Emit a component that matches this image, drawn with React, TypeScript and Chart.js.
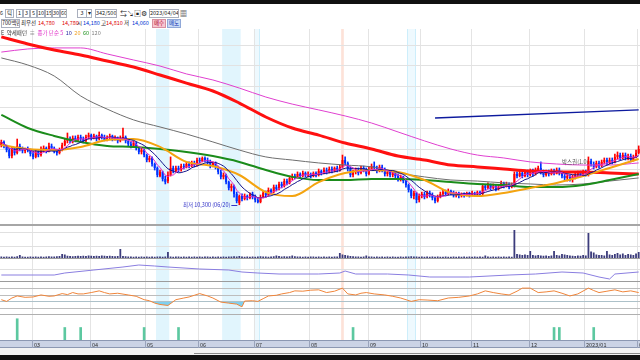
import React, { useEffect, useRef } from "react";
import { Chart, registerables } from "chart.js";
Chart.register(...registerables);

// ---------- data ----------
const monthStarts = [12, 34, 55, 75, 96, 117, 139, 159, 178, 200, 221, 241];
const monthLabels = ["03", "04", "05", "06", "07", "08", "09", "10", "11", "12", "2023/01", "02"];

const opens = [
  13170,13320,13130,12930,12640,12980,12790,13130,13030,12890,
  12980,12930,12740,12600,12840,12690,12930,13030,12890,13130,
  13030,12890,12790,12930,13170,13370,13460,13370,13510,13410,
  13560,13460,13370,13560,13650,13510,13610,13460,13650,13560,
  13410,13510,13610,13460,13510,13370,13460,13560,13370,13220,
  13130,13270,13030,12840,12930,12690,12450,12550,12260,12070,
  11680,11880,11540,11440,11730,12070,11920,12070,11970,12160,
  12120,12260,12160,12310,12210,12450,12400,12550,12450,12360,
  12160,12310,12120,11880,11640,11730,11390,11110,11200,10820,
  10390,10720,10580,10720,10630,10820,10670,10530,10430,10670,
  10870,10770,11010,10910,11150,11060,11300,11200,11440,11350,
  11590,11680,11640,11780,11680,11830,11730,11780,11680,11830,
  11730,11920,11830,11970,11880,12020,11920,12070,11970,12120,
  12450,12310,12020,11730,11880,11970,11830,12070,11970,11780,
  12020,12160,12070,11920,12120,11970,11780,11880,11730,11830,
  11680,11540,11640,11440,11250,11010,10720,10870,10530,10720,
  10820,10670,10870,10770,10630,10480,10670,10820,10910,10820,
  10960,10870,10770,10870,10720,10820,10770,10870,10770,10870,
  10820,10910,10820,11200,11110,11250,11110,11200,11060,11150,
  11350,11200,11300,11150,11200,11780,11680,11830,11680,11880,
  11730,11920,11780,11970,12070,11880,11730,11880,11780,11920,
  11830,11970,11830,11680,11590,11680,11540,11640,11730,11830,
  11730,11880,11730,12400,12260,12120,12310,12160,12360,12450,
  12310,12450,12360,12600,12690,12550,12690,12550,12640,12450,
  12600,12790,
];
const closes = [
  13320,13130,12930,12640,12980,12790,13130,13030,12890,12980,
  12930,12740,12600,12840,12690,12930,13030,12890,13130,13030,
  12890,12790,12930,13170,13370,13460,13370,13510,13410,13560,
  13460,13370,13560,13650,13510,13610,13460,13650,13560,13410,
  13510,13610,13460,13510,13370,13460,13560,13370,13220,13130,
  13270,13030,12840,12930,12690,12450,12550,12260,12070,11730,
  11880,11540,11390,11730,12070,11920,12070,11970,12160,12120,
  12260,12160,12310,12210,12450,12400,12550,12450,12360,12160,
  12310,12120,11880,11640,11730,11390,11110,11200,10820,10480,
  10720,10580,10720,10630,10820,10670,10530,10430,10670,10870,
  10770,11010,10910,11150,11060,11300,11200,11440,11350,11590,
  11680,11640,11780,11680,11830,11730,11780,11680,11830,11730,
  11920,11830,11970,11880,12020,11920,12070,11970,12120,12450,
  12310,12020,11730,11880,11970,11830,12070,11970,11780,12020,
  12160,12070,11920,12120,11970,11780,11880,11730,11830,11680,
  11540,11640,11440,11250,11010,10720,10870,10530,10720,10820,
  10670,10870,10770,10630,10480,10670,10820,10910,10820,10960,
  10870,10770,10870,10720,10820,10770,10870,10770,10870,10820,
  10910,10820,11200,11110,11250,11110,11200,11060,11150,11350,
  11200,11300,11150,11250,11780,11680,11830,11680,11880,11730,
  11920,11780,11970,12070,11880,11730,11880,11780,11920,11830,
  11970,11830,11680,11590,11680,11540,11640,11730,11830,11730,
  11880,11780,12400,12260,12120,12310,12160,12360,12450,12310,
  12450,12360,12600,12690,12550,12690,12550,12640,12450,12600,
  12790,12980,
];
const highs = [
  13410,13370,13170,13030,13080,13030,13460,13220,13080,13030,
  13080,12980,12890,12930,12930,13080,13130,13080,13270,13220,
  13080,12980,13030,13270,13460,13750,13560,13610,13610,13650,
  13650,13560,13650,13750,13700,13700,13650,13800,13700,13650,
  13610,13700,13650,13610,13560,13610,13990,13610,13410,13320,
  13370,13320,13080,13030,12980,12740,12640,12600,12310,12120,
  11970,11920,11680,11880,12600,12160,12160,12160,12260,12260,
  12360,12360,12400,12400,12550,12550,12600,12600,12550,12450,
  12360,12360,12160,11970,11830,11780,11440,11300,11250,10910,
  10770,10820,10820,10770,10870,10910,10770,10630,10770,10960,
  10960,11110,11060,11250,11250,11390,11390,11540,11540,11680,
  11780,11780,11880,11830,11920,11880,11880,11830,11880,11880,
  12020,11970,12070,12070,12120,12120,12120,12160,12210,12690,
  12600,12360,12120,11970,12070,12070,12160,12160,12070,12120,
  12260,12360,12160,12210,12210,12070,11970,11920,11920,11880,
  11780,11730,11680,11540,11300,11060,10960,10910,10820,10910,
  10910,10960,10960,10870,10720,10770,10910,11010,11010,11060,
  11010,10960,10910,10910,10870,10870,10910,10910,10960,10910,
  10960,10960,11300,11250,11350,11300,11300,11250,11250,11440,
  11390,11390,11350,11350,11880,11880,11920,11920,11970,11970,
  12020,12020,12070,12160,12360,11970,11970,11970,12020,12020,
  12070,12070,11920,11780,11780,11730,11730,11830,11920,11920,
  11970,11970,12600,12500,12360,12400,12400,12450,12550,12550,
  12550,12550,12740,12840,12790,12790,12790,12740,12740,12690,
  12930,13130,
];
const lows = [
  13080,13030,12840,12550,12550,12690,12740,12890,12790,12790,
  12840,12640,12500,12550,12600,12640,12840,12790,12840,12930,
  12790,12690,12740,12890,13130,13270,13270,13270,13320,13370,
  13370,13270,13320,13460,13410,13460,13370,13410,13460,13370,
  13370,13460,13370,13410,13270,13320,13410,13270,13130,13030,
  13080,12930,12740,12740,12600,12360,12360,12160,11970,11640,
  11640,11440,11300,11350,11680,11830,11880,11880,11920,12020,
  12070,12070,12120,12120,12160,12310,12360,12360,12260,12070,
  12120,12020,11780,11540,11540,11300,11010,10960,10670,10390,
  10300,10480,10530,10530,10580,10580,10430,10390,10390,10630,
  10670,10720,10820,10870,10960,11010,11110,11150,11250,11300,
  11490,11540,11590,11590,11640,11640,11640,11590,11640,11640,
  11680,11730,11780,11780,11830,11830,11880,11880,11920,12070,
  12210,11920,11640,11640,11780,11730,11780,11880,11680,11730,
  11970,11970,11830,11880,11880,11680,11680,11640,11640,11590,
  11440,11440,11350,11150,10910,10630,10580,10390,10430,10630,
  10580,10630,10670,10530,10390,10430,10630,10770,10720,10770,
  10770,10670,10670,10630,10670,10670,10720,10670,10720,10720,
  10720,10720,10770,11010,11060,11010,11060,10960,11010,11110,
  11110,11150,11060,11110,11150,11590,11640,11590,11640,11640,
  11680,11680,11730,11880,11780,11640,11680,11680,11730,11730,
  11780,11730,11590,11490,11440,11440,11390,11540,11640,11640,
  11680,11680,11680,12160,12020,12070,12070,12120,12260,12210,
  12260,12260,12310,12500,12450,12500,12450,12450,12360,12400,
  12550,12740,
];
const volumes = [
  30,25,30,25,30,25,35,60,30,25,
  25,30,25,30,25,30,25,30,35,30,
  30,35,40,80,70,45,40,35,40,45,
  40,45,40,50,45,40,45,40,50,45,
  40,45,40,35,40,180,40,35,30,30,
  25,30,25,30,25,30,25,30,25,30,
  30,25,30,120,30,25,30,30,25,30,
  25,30,25,30,25,30,25,30,30,25,
  30,25,30,25,30,25,30,30,35,30,
  40,30,25,30,25,30,25,30,35,30,
  30,25,30,35,50,40,30,35,30,35,
  50,35,30,30,25,30,25,30,30,25,
  30,25,30,25,30,25,30,30,100,70,
  60,50,40,35,30,30,25,30,50,30,
  30,25,30,25,30,25,30,25,30,25,
  25,30,25,30,30,35,30,30,25,30,
  25,30,25,30,25,30,25,25,30,25,
  25,30,25,30,25,30,25,30,25,30,
  25,30,25,50,30,25,30,25,30,25,
  30,25,30,25,560,80,70,60,70,60,
  140,60,50,60,50,45,50,40,50,140,
  60,50,80,70,60,50,45,40,50,45,
  60,50,500,130,110,70,60,60,50,140,
  70,60,80,100,70,90,60,80,70,60,
  90,120,
];

// long moving averages, read at sample days
const maIdx = [0,10,20,30,40,50,60,70,80,90,100,110,120,130,140,150,160,170,180,190,200,210,220,230,241];
const ma20 = [13170,12980,12930,13080,13410,13460,13080,12360,12160,11730,10910,10720,11390,11830,11970,11880,11490,10870,10720,10870,11110,11350,11680,12070,12500];
const ma60 = [14620,13990,13610,13320,13130,13080,12980,12840,12640,12360,11970,11640,11490,11490,11540,11540,11490,11390,11300,11250,11150,11150,11250,11490,11780];
const ma120 = [17360,17020,16490,15530,14900,14380,14040,13700,13320,12930,12600,12450,12310,12210,12120,11830,11640,11490,11440,11350,11300,11250,11300,11440,11590];
const ma240 = [18370,18030,17740,17500,17210,16920,16540,16150,15770,15190,14520,13990,13650,13270,12980,12640,12450,12210,12120,12020,11920,11880,11880,11830,11780];
const ma480 = [17640,17790,17840,17840,17550,17260,16970,16590,16300,15910,15480,15140,14860,14570,14230,13800,13370,12980,12690,12550,12360,12260,12210,12210,12310];

const trendIdx = [164, 241];
const trendVal = [14470, 14860];

const obvIdx = [0,20,24,35,46,52,58,63,75,86,91,97,105,120,128,130,134,146,154,162,177,192,202,212,220,226,230,232,241];
const obvVal = [60,60,80,110,140,160,150,140,120,110,90,80,70,70,80,100,70,70,60,40,40,60,70,90,80,40,20,70,90];

const oscIdx = [0,2,4,6,9,12,15,18,20,23,25,27,29,31,34,37,39,41,44,48,51,54,56,58,60,63,66,69,71,73,75,78,80,83,86,89,91,92,95,97,99,101,104,106,109,111,114,117,120,123,126,129,131,134,136,138,141,145,148,151,155,158,161,165,169,173,177,180,183,186,189,192,195,197,200,203,206,209,212,215,218,222,224,226,229,232,235,238,241];
const oscVal = [45,40,50,56,52,53,59,55,56,63,60,66,62,62,66,71,66,62,64,59,55,45,42,35,31,28,45,50,53,58,63,56,50,38,35,32,24,41,42,40,48,56,58,62,66,71,70,73,74,66,70,79,62,59,64,66,62,59,55,50,40,45,44,42,50,52,56,62,71,66,62,59,70,79,79,66,68,71,64,56,62,79,72,66,70,74,68,71,66];

const sigIdx = [6,24,30,54,67,133,209,211,224];
const sigVal = [0.85,0.5,0.5,0.5,0.5,0.5,0.5,0.5,0.5];

const bandFrom = [59, 84, 96, 129, 154];
const bandTo = [63, 90, 97, 129, 156];
const bandColor = ["#e1f5fd", "#e1f5fd", "#eef9fe", "#fde2d8", "#eef9fe"];
const bandEdge = [false, false, true, false, true];

const lowDateLabel = "06/20";
const boxLabel = "박스권(1.0)";
const boxIdx = 212;
const boxPrice = 12360;

const legendItems = [
  { t: "E", c: "#333" },
  { t: "약세패턴", c: "#333" },
  { t: "≡", c: "#333" },
  { t: "종가 단순 5", c: "#e030c8" },
  { t: "10", c: "#1a1a9a" },
  { t: "20", c: "#f0a020" },
  { t: "60", c: "#1a901a" },
  { t: "120", c: "#808080" },
];

// ---------- helpers ----------
const N = closes.length;
const FONT = '5.5px "Noto Sans CJK KR", sans-serif';

function sma(arr: number[], n: number) {
  return arr.map((_, i) => {
    const s = Math.max(0, i - n + 1);
    const sl = arr.slice(s, i + 1);
    return sl.reduce((a, b) => a + b, 0) / sl.length;
  });
}
const pts = (xs: number[], ys: number[]) => xs.map((x, k) => ({ x, y: ys[k] }));

function baseOptions(yMin: number, yMax: number): any {
  return {
    responsive: false,
    animation: false,
    devicePixelRatio: 1,
    events: [],
    layout: { padding: 0 },
    plugins: { legend: { display: false }, tooltip: { enabled: false } },
    scales: {
      x: { type: "linear", min: -0.5, max: N - 0.5, display: false, offset: false },
      y: { type: "linear", min: yMin, max: yMax, display: false },
    },
  };
}

function panel(cfg: {
  hLines?: number[];
  hColor?: string;
  top?: [string, number];
  bottom?: [string, number];
  bands?: boolean;
  vColor?: string;
  after?: (c: any) => void;
}) {
  return {
    id: "panel",
    beforeDatasetsDraw(chart: any) {
      const { ctx, chartArea: a, scales } = chart;
      const x = scales.x, y = scales.y;
      ctx.save();
      if (cfg.bands !== false) {
        bandFrom.forEach((f, k) => {
          const x0 = x.getPixelForValue(f - 0.5);
          const x1 = x.getPixelForValue(bandTo[k] + 0.5);
          ctx.fillStyle = bandColor[k];
          ctx.fillRect(x0, a.top, x1 - x0, a.bottom - a.top);
          if (bandEdge[k]) {
            ctx.strokeStyle = "#cdeefb";
            ctx.lineWidth = 1;
            [x0, x1].forEach((xx) => {
              ctx.beginPath();
              ctx.moveTo(Math.round(xx) + 0.5, a.top);
              ctx.lineTo(Math.round(xx) + 0.5, a.bottom);
              ctx.stroke();
            });
          }
        });
      }
      ctx.lineWidth = 1;
      ctx.strokeStyle = cfg.vColor || "#e4e4e4";
      monthStarts.forEach((m) => {
        const px = Math.round(x.getPixelForValue(m - 0.5)) + 0.5;
        ctx.beginPath();
        ctx.moveTo(px, a.top);
        ctx.lineTo(px, a.bottom);
        ctx.stroke();
      });
      if (cfg.hLines) {
        ctx.strokeStyle = cfg.hColor || "#e2e2e2";
        cfg.hLines.forEach((v) => {
          const py = Math.round(y.getPixelForValue(v)) + 0.5;
          ctx.beginPath();
          ctx.moveTo(a.left, py);
          ctx.lineTo(a.right, py);
          ctx.stroke();
        });
      }
      ctx.restore();
    },
    afterDatasetsDraw(chart: any) {
      const { ctx, chartArea: a } = chart;
      ctx.save();
      if (cfg.after) cfg.after(chart);
      if (cfg.top) {
        ctx.fillStyle = cfg.top[0];
        ctx.fillRect(a.left, a.top, a.right - a.left, cfg.top[1]);
      }
      if (cfg.bottom) {
        ctx.fillStyle = cfg.bottom[0];
        ctx.fillRect(a.left, a.bottom - cfg.bottom[1], a.right - a.left, cfg.bottom[1]);
      }
      ctx.restore();
    },
  };
}

function lineDs(data: any[], color: string, width: number, order: number, smooth = true): any {
  return {
    type: "line",
    data,
    borderColor: color,
    borderWidth: width,
    pointRadius: 0,
    fill: false,
    order,
    cubicInterpolationMode: smooth ? "monotone" : "default",
    tension: 0,
  };
}

// ---------- charts ----------
function mainConfig(): any {
  const idx = closes.map((_, i) => i);
  const col = closes.map((c, i) => (c >= opens[i] ? "#ff0000" : "#0033ff"));
  const ma5 = sma(closes, 5);
  const ma10 = sma(closes, 10);
  const lowI = lows.indexOf(Math.min(...lows));
  const opts = baseOptions(9375, 18750);
  return {
    type: "bar",
    data: {
      datasets: [
        lineDs(pts(trendIdx, trendVal), "#0d1a9e", 1.3, 0, false),
        lineDs(idx.map((i) => ({ x: i, y: ma5[i] })), "#e02cc8", 1, 1, false),
        lineDs(idx.map((i) => ({ x: i, y: ma10[i] })), "#14148c", 1, 2, false),
        lineDs(pts(maIdx, ma20), "#f4a410", 2, 3),
        lineDs(pts(maIdx, ma60), "#1b8c1b", 2, 4),
        lineDs(pts(maIdx, ma120), "#6e6e6e", 1, 5),
        lineDs(pts(maIdx, ma240), "#ff1010", 3, 6),
        lineDs(pts(maIdx, ma480), "#e040d0", 1, 7),
        {
          type: "bar",
          data: idx.map((i) => ({ x: i, y: [opens[i], closes[i]] })),
          backgroundColor: col,
          barPercentage: 0.85,
          categoryPercentage: 0.9,
          grouped: false,
          minBarLength: 1,
          borderWidth: 0,
          order: 8,
        },
        {
          type: "bar",
          data: idx.map((i) => ({ x: i, y: [lows[i], highs[i]] })),
          backgroundColor: col,
          barThickness: 1,
          grouped: false,
          borderWidth: 0,
          order: 9,
        },
      ],
    },
    options: opts,
    plugins: [
      panel({
        hLines: [10000, 11000, 12000, 13000, 14000, 15000, 16000, 17000, 18000],
        hColor: "#e2e2e2",
        after: (chart: any) => {
          const { ctx, scales } = chart;
          const x = scales.x, y = scales.y;
          ctx.font = FONT;
          ctx.textBaseline = "middle";
          ctx.textAlign = "left";
          let lx = 1;
          legendItems.forEach((it) => {
            ctx.fillStyle = it.c;
            ctx.fillText(it.t, lx, 4);
            lx += ctx.measureText(it.t).width + 2.5;
          });
          const px = x.getPixelForValue(lowI);
          const py = y.getPixelForValue(lows[lowI]);
          ctx.fillStyle = "#3434c8";
          ctx.textAlign = "right";
          ctx.fillText(`최저 ${lows[lowI].toLocaleString("en-US")} (${lowDateLabel})`, px - 9, py);
          ctx.strokeStyle = "#3434c8";
          ctx.lineWidth = 1;
          ctx.beginPath();
          ctx.moveTo(px - 8, Math.round(py) + 0.5);
          ctx.lineTo(px - 2, Math.round(py) + 0.5);
          ctx.stroke();
          ctx.fillStyle = "#555";
          ctx.textAlign = "left";
          ctx.fillText(boxLabel, x.getPixelForValue(boxIdx), y.getPixelForValue(boxPrice));
        },
      }),
    ],
  };
}

function volConfig(): any {
  return {
    type: "bar",
    data: {
      datasets: [
        {
          data: volumes.map((v, i) => ({ x: i, y: v })),
          backgroundColor: "#3c3c7c",
          barPercentage: 0.85,
          categoryPercentage: 0.8,
          borderWidth: 0,
        },
      ],
    },
    options: baseOptions(0, 680),
    plugins: [panel({ hLines: [240, 520], hColor: "#e0e0e0", top: ["#a6a6a6", 2] })],
  };
}

function obvConfig(): any {
  return {
    type: "line",
    data: { datasets: [lineDs(pts(obvIdx, obvVal), "#8a7ee0", 1, 0, false)] },
    options: baseOptions(0, 230),
    plugins: [panel({ hLines: [120], hColor: "#e0e0e0", top: ["#9c9c9c", 1] })],
  };
}

function oscConfig(): any {
  const ds = lineDs(pts(oscIdx, oscVal), "#f0853a", 1, 0, false);
  ds.fill = { target: { value: 40 }, below: "#7fd0f0", above: "rgba(0,0,0,0)" };
  return {
    type: "line",
    data: { datasets: [ds] },
    options: baseOptions(0, 100),
    plugins: [panel({ hLines: [20, 40, 60, 80], hColor: "#bdbdbd", top: ["#9c9c9c", 1], bottom: ["#b0b0b0", 1] })],
  };
}

function sigConfig(): any {
  return {
    type: "bar",
    data: {
      datasets: [
        {
          data: pts(sigIdx, sigVal),
          backgroundColor: "#5cc8a0",
          barThickness: 2,
          borderWidth: 0,
        },
      ],
    },
    options: baseOptions(0, 1),
    plugins: [panel({})],
  };
}

function dateConfig(): any {
  return {
    type: "line",
    data: { datasets: [] },
    options: baseOptions(0, 1),
    plugins: [
      {
        id: "dateAxis",
        beforeDraw(chart: any) {
          const { ctx, chartArea: a, scales } = chart;
          const x = scales.x;
          ctx.save();
          ctx.fillStyle = "#cbd3e5";
          ctx.fillRect(a.left, a.top, a.right - a.left, a.bottom - a.top);
          ctx.fillStyle = "#8c98b2";
          ctx.fillRect(a.left, a.top, a.right - a.left, 1);
          ctx.fillRect(a.left, a.bottom - 1, a.right - a.left, 1);
          ctx.font = FONT;
          ctx.textBaseline = "middle";
          ctx.textAlign = "left";
          monthStarts.forEach((m, k) => {
            const px = Math.round(x.getPixelForValue(m - 0.5)) + 0.5;
            ctx.strokeStyle = "#9aa4bc";
            ctx.beginPath();
            ctx.moveTo(px, a.top);
            ctx.lineTo(px, a.bottom);
            ctx.stroke();
            ctx.fillStyle = "#333";
            ctx.fillText(monthLabels[k], px + 1.5, (a.top + a.bottom) / 2 + 0.5);
          });
          ctx.restore();
        },
      },
    ],
  };
}

// ---------- UI ----------
const fs = 5.5;
function Box(p: { x: number; y: number; w: number; h: number; t: string; c?: string; bg?: string; bd?: string }) {
  return (
    <div
      style={{
        position: "absolute",
        left: p.x,
        top: p.y,
        width: p.w,
        height: p.h,
        border: `1px solid ${p.bd || "#a9afbd"}`,
        background: p.bg || "#fff",
        color: p.c || "#222",
        fontSize: fs,
        lineHeight: `${p.h - 2}px`,
        textAlign: "center",
        boxSizing: "border-box",
        whiteSpace: "nowrap",
        overflow: "hidden",
      }}
    >
      {p.t}
    </div>
  );
}
function Txt(p: { x: number; y: number; t: string; c?: string; size?: number }) {
  return (
    <div
      style={{
        position: "absolute",
        left: p.x,
        top: p.y,
        height: 9,
        lineHeight: "9px",
        fontSize: p.size || fs,
        color: p.c || "#222",
        whiteSpace: "nowrap",
      }}
    >
      {p.t}
    </div>
  );
}

const RED = "#e00000";
const BLUE = "#0030d0";

export default function App() {
  const mainRef = useRef<HTMLCanvasElement>(null);
  const volRef = useRef<HTMLCanvasElement>(null);
  const obvRef = useRef<HTMLCanvasElement>(null);
  const oscRef = useRef<HTMLCanvasElement>(null);
  const sigRef = useRef<HTMLCanvasElement>(null);
  const dateRef = useRef<HTMLCanvasElement>(null);

  useEffect(() => {
    const charts: Chart[] = [];
    charts.push(new Chart(mainRef.current!, mainConfig()));
    charts.push(new Chart(volRef.current!, volConfig()));
    charts.push(new Chart(obvRef.current!, obvConfig()));
    charts.push(new Chart(oscRef.current!, oscConfig()));
    charts.push(new Chart(sigRef.current!, sigConfig()));
    charts.push(new Chart(dateRef.current!, dateConfig()));
    return () => charts.forEach((c) => c.destroy());
  }, []);

  const cv = (ref: any, top: number, h: number) => (
    <canvas ref={ref} width={640} height={h} style={{ position: "absolute", left: 0, top, width: 640, height: h, display: "block" }} />
  );

  const nums = ["1", "3", "5", "10", "15", "30", "60"];
  const numX = [16, 23, 30, 37, 45, 52, 60];
  const numW = [7, 7, 7, 8, 7, 8, 7];

  return (
    <div
      style={{
        position: "fixed",
        left: 0,
        top: 0,
        width: 640,
        height: 360,
        background: "#fff",
        overflow: "hidden",
        fontFamily: '"Noto Sans CJK KR", "Liberation Sans", sans-serif',
      }}
    >
      <div style={{ position: "absolute", left: 0, top: 0, width: 640, height: 4, background: "#111" }} />
      {/* toolbar row 1 */}
      <Txt x={0} y={9} t="6" />
      <Box x={5} y={9} w={9} h={9} t="틱" />
      {nums.map((n, k) => (
        <Box key={n} x={numX[k]} y={9} w={numW[k]} h={9} t={n} />
      ))}
      <Box x={77} y={9} w={10} h={9} t="3" />
      <Box x={86} y={9} w={6} h={9} t="▾" />
      <Box x={95} y={9} w={22} h={9} t="342/500" />
      <Txt x={120} y={9} t="⇆" size={7} />
      <Txt x={127} y={9} t="↘" size={7} />
      <Txt x={134} y={9} t="▣" size={7} />
      <Txt x={141} y={9} t="⚙" size={7} />
      <Box x={149} y={9} w={30} h={9} t="2023/04/04" />
      <Txt x={180} y={9} t="▦" size={7} />
      {/* toolbar row 2 */}
      <Box x={1} y={19} w={19} h={9} t="700백만" />
      <Txt x={21} y={19} t="최우선" />
      <Txt x={38} y={19} t="14,780" c={RED} />
      <Txt x={62} y={19} t="14,780" c={RED} />
      <Txt x={77} y={19} t="시" />
      <Txt x={83} y={19} t="14,180" c={BLUE} />
      <Txt x={101} y={19} t="고" />
      <Txt x={106} y={19} t="14,810" c={RED} />
      <Txt x={124} y={19} t="저" />
      <Txt x={132} y={19} t="14,060" c={BLUE} />
      <Box x={152} y={19} w={14} h={9} t="매수" bg="#f7c6d0" c="#b00020" bd="#d890a0" />
      <Box x={167} y={19} w={14} h={9} t="매도" bg="#c8daf5" c="#1030b0" bd="#90a8d8" />

      {cv(mainRef, 29, 195)}
      {cv(volRef, 224, 34)}
      {cv(obvRef, 258, 23)}
      {cv(oscRef, 281, 34)}
      {cv(sigRef, 315, 25)}
      {cv(dateRef, 340, 8)}

      <div style={{ position: "absolute", left: 0, top: 348, width: 640, height: 7, background: "#f3f3f3" }} />
      <div style={{ position: "absolute", left: 194, top: 353, width: 446, height: 1, background: "#8a8a8a" }} />
      <div style={{ position: "absolute", left: 0, top: 355, width: 640, height: 5, background: "#111" }} />
    </div>
  );
}
